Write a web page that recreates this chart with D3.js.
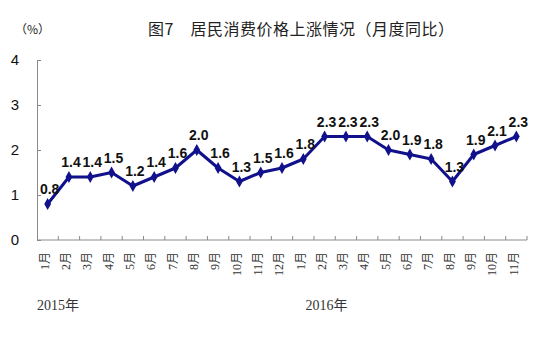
<!DOCTYPE html>
<html>
<head>
<meta charset="utf-8">
<script src="https://cdn.jsdelivr.net/npm/d3@7"></script>
<style>
  body { margin: 0; background: #fff; }
  svg { display: block; }
</style>
</head>
<body>
<svg id="chart"></svg>
<script>
// month labels, 2015-01 .. 2016-11
const months = ["1月","2月","3月","4月","5月","6月","7月","8月","9月","10月","11月","12月",
                "1月","2月","3月","4月","5月","6月","7月","8月","9月","10月","11月"]
const cpi = [0.8, 1.4, 1.4, 1.5, 1.2, 1.4, 1.6, 2.0, 1.6, 1.3, 1.5, 1.6,
             1.8, 2.3, 2.3, 2.3, 2.0, 1.9, 1.8, 1.3, 1.9, 2.1, 2.3]
const yearLabels = ["2015年", "2016年"]
const yTicks = [0, 1, 2, 3, 4]
const title = "图7　居民消费价格上涨情况（月度同比）"

const width = 548, height = 340
const margin = {left: 37, right: 21, top: 60, bottom: 100}

const svg = d3.select("#chart").attr("width", width).attr("height", height)

const keys = months.map((m, i) => i)
const x = d3.scaleBand().domain(keys).range([margin.left, width - margin.right])
const y = d3.scaleLinear().domain([0, 4]).range([height - margin.bottom, margin.top])

const axisColor = "#8a8a8a"
const lineColor = "#11118c"

// title + unit
svg.append("text")
    .attr("x", 148).attr("y", 35)
    .attr("font-family", "Noto Sans CJK SC, sans-serif")
    .attr("font-size", 16)
    .attr("letter-spacing", 0.5)
    .attr("fill", "#222")
    .text(title)

svg.append("text")
    .attr("x", 15).attr("y", 34)
    .attr("font-family", "Noto Sans CJK SC, sans-serif")
    .attr("font-size", 12)
    .attr("fill", "#222")
    .text("（%）")

// y axis
const yAxis = d3.axisRight(y).tickValues(yTicks).tickSize(4).tickFormat("")
const yg = svg.append("g").attr("transform", `translate(${margin.left},0)`).call(yAxis)
yg.select(".domain").attr("stroke", axisColor)
yg.selectAll(".tick line").attr("stroke", axisColor)

svg.append("g").selectAll("text")
    .data(yTicks)
    .join("text")
    .attr("x", 15).attr("y", d => y(d))
    .attr("dy", "0.36em")
    .attr("text-anchor", "middle")
    .attr("font-family", "Liberation Sans, Arial, sans-serif")
    .attr("font-size", 15)
    .attr("fill", "#111")
    .text(d => d)

// x axis: line + boundary ticks pointing up
const xg = svg.append("g")
xg.append("line")
    .attr("x1", x.range()[0]).attr("x2", x.range()[1])
    .attr("y1", y(0)).attr("y2", y(0))
    .attr("stroke", axisColor)
xg.selectAll("line.tk")
    .data(keys)
    .join("line")
    .attr("class", "tk")
    .attr("x1", d => x(d) + x.bandwidth()).attr("x2", d => x(d) + x.bandwidth())
    .attr("y1", y(0)).attr("y2", y(0) - 4)
    .attr("stroke", axisColor)

xg.selectAll("text")
    .data(keys)
    .join("text")
    .attr("transform", d => `translate(${x(d) + x.bandwidth() / 2 - 3},${y(0) + 12}) rotate(-90)`)
    .attr("dy", "0.35em")
    .attr("text-anchor", "end")
    .attr("font-family", "Liberation Serif, Noto Sans CJK SC, serif")
    .attr("font-size", 12)
    .attr("fill", "#333")
    .text(d => months[d])

// year labels under first month of each year
const yearStarts = keys.filter(i => months[i] === "1月")
svg.append("g").selectAll("text")
    .data(yearStarts)
    .join("text")
    .attr("x", (d, i) => i === 0 ? x(d) : x(d) + x.bandwidth() * 0.6)
    .attr("y", 310)
    .attr("font-family", "Liberation Serif, Noto Sans CJK SC, serif")
    .attr("font-size", 14)
    .attr("fill", "#333")
    .text((d, i) => yearLabels[i])

// line
const cx = i => x(i) + x.bandwidth() / 2
const line = d3.line().x((d, i) => cx(i)).y(d => y(d))
svg.append("path")
    .datum(cpi)
    .attr("d", line)
    .attr("fill", "none")
    .attr("stroke", lineColor)
    .attr("stroke-width", 3)
    .attr("stroke-linejoin", "round")

svg.append("g").selectAll("path")
    .data(cpi)
    .join("path")
    .attr("d", d3.symbol(d3.symbolDiamond, 40))
    .attr("transform", (d, i) => `translate(${cx(i)},${y(d)})`)
    .attr("fill", lineColor)

// value labels
svg.append("g").selectAll("text")
    .data(cpi)
    .join("text")
    .attr("x", (d, i) => cx(i) + 2)
    .attr("y", d => y(d) - 10)
    .attr("text-anchor", "middle")
    .attr("font-family", "Liberation Sans, Arial, sans-serif")
    .attr("font-weight", "bold")
    .attr("font-size", 14)
    .attr("fill", "#111")
    .text(d => d.toFixed(1))
</script>
</body>
</html>
